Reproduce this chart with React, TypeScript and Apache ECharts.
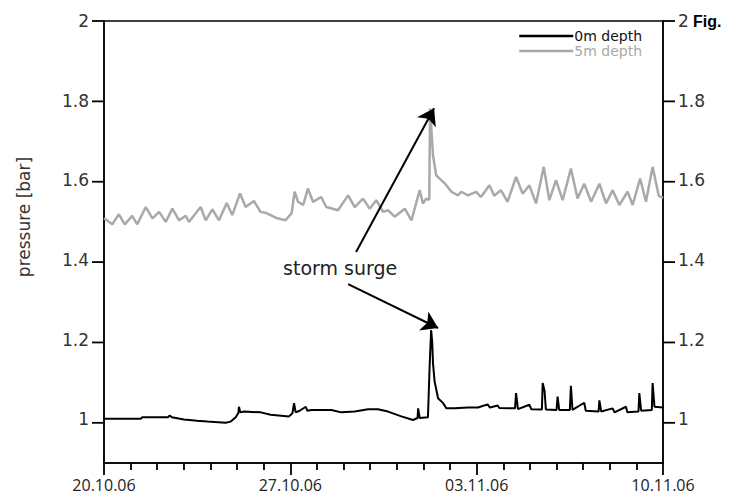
import React, { useEffect, useRef } from "react";
import * as echarts from "echarts";

const xTickLabels = ["20.10.06", "27.10.06", "03.11.06", "10.11.06"];
const yTicks = [1, 1.2, 1.4, 1.6, 1.8, 2];

const seriesNames = ["0m depth", "5m depth"];

const blackDays = [0.00,1.38,1.44,2.40,2.47,2.55,3.00,3.50,3.88,4.57,4.76,4.95,5.05,5.07,5.12,5.26,5.89,6.26,6.95,7.08,7.14,7.20,7.35,7.58,7.64,7.79,8.54,8.92,9.42,9.92,10.29,10.67,11.17,11.61,11.78,11.80,11.86,12.17,12.23,12.29,12.33,12.36,12.42,12.55,12.74,12.86,13.17,13.68,14.05,14.41,14.50,14.79,14.85,15.44,15.48,15.55,15.98,16.05,16.45,16.48,16.55,16.60,17.00,17.04,17.10,17.50,17.54,17.60,18.04,18.10,18.58,18.61,18.68,19.11,19.18,19.61,19.66,20.08,20.11,20.18,20.58,20.61,20.68,21.00];
const blackValues = [1.010,1.010,1.014,1.014,1.018,1.014,1.008,1.005,1.003,1.000,1.003,1.014,1.025,1.040,1.026,1.028,1.026,1.020,1.016,1.024,1.049,1.026,1.030,1.040,1.030,1.032,1.032,1.026,1.028,1.034,1.034,1.028,1.016,1.007,1.012,1.036,1.012,1.014,1.136,1.231,1.200,1.148,1.103,1.061,1.049,1.036,1.036,1.038,1.038,1.046,1.038,1.043,1.037,1.036,1.074,1.034,1.045,1.034,1.033,1.099,1.080,1.033,1.032,1.065,1.032,1.032,1.092,1.032,1.050,1.030,1.028,1.056,1.028,1.036,1.026,1.040,1.026,1.028,1.074,1.030,1.032,1.099,1.040,1.038];

const grayDays = [0.00,0.31,0.56,0.78,1.06,1.25,1.57,1.82,2.07,2.32,2.57,2.82,3.07,3.19,3.63,3.82,4.07,4.32,4.61,4.82,5.11,5.32,5.63,5.88,6.10,6.51,6.82,7.05,7.16,7.29,7.48,7.66,7.85,8.16,8.35,8.79,9.17,9.42,9.73,9.98,10.23,10.48,10.67,10.92,11.30,11.55,11.86,11.98,12.11,12.22,12.25,12.32,12.36,12.48,12.80,13.05,13.30,13.42,13.67,13.98,14.16,14.48,14.66,14.91,15.16,15.48,15.73,15.98,16.23,16.52,16.73,16.98,17.23,17.54,17.79,18.04,18.30,18.61,18.86,19.11,19.36,19.67,19.86,20.14,20.36,20.61,20.84,21.00];
const grayValues = [1.509,1.494,1.519,1.494,1.515,1.494,1.537,1.509,1.525,1.500,1.533,1.504,1.515,1.500,1.537,1.504,1.531,1.504,1.547,1.517,1.571,1.537,1.552,1.525,1.522,1.509,1.504,1.522,1.575,1.550,1.542,1.583,1.550,1.562,1.537,1.529,1.566,1.537,1.558,1.533,1.554,1.525,1.529,1.513,1.533,1.504,1.579,1.546,1.558,1.555,1.782,1.707,1.666,1.616,1.596,1.575,1.566,1.575,1.566,1.575,1.562,1.591,1.565,1.579,1.550,1.612,1.570,1.591,1.546,1.637,1.554,1.604,1.554,1.633,1.558,1.595,1.550,1.595,1.546,1.579,1.542,1.575,1.542,1.608,1.550,1.637,1.565,1.560];

// annotation anchors (data coordinates: day, bar)
const annotationText = "storm surge";
const annotationPos = [8.87, 1.385];
const arrowUpper = [[9.47, 1.425], [12.40, 1.783]];
const arrowLower = [[9.17, 1.345], [12.55, 1.236]];

const BLACK = "#000000";
const GRAY = "#a9a9a9";

const X_MIN = 0;
const X_MAX = 21;
const Y_MIN = 0.9;
const Y_MAX = 2;
const Y_STEP = 0.2;
// label axis starts one step below the first tick so that labels land on 1, 1.2, ...
const Y_TICK_MIN = yTicks[0] - Y_STEP;
const TICK_LEN = 12;

function labelAxis(position: "left" | "right") {
  return {
    type: "value",
    gridIndex: 1,
    position,
    min: Y_TICK_MIN,
    max: Y_MAX,
    interval: Y_STEP,
    splitLine: { show: false },
    axisLine: { show: false },
    axisTick: { show: false },
    axisLabel: {
      formatter: (v: number) => (v < yTicks[0] - 1e-6 ? "" : String(Number(v.toFixed(1)))),
      color: "#333",
      fontFamily: "DejaVu Sans",
      fontSize: 17,
      margin: 15,
    },
  };
}

function lineAxis(position: "left" | "right", extra: Record<string, unknown>) {
  return {
    type: "value",
    gridIndex: 0,
    position,
    min: Y_MIN,
    max: Y_MAX,
    splitLine: { show: false },
    axisLine: { show: true, lineStyle: { color: "#000", width: 1.5 } },
    axisTick: { show: false },
    axisLabel: { show: false },
    ...extra,
  };
}

export default function App() {
  const ref = useRef<HTMLDivElement>(null);
  useEffect(() => {
    if (!ref.current) return;
    const chart = echarts.init(ref.current, undefined, { renderer: "svg" });
    const blackData = blackDays.map((d, i) => [d, blackValues[i]]);
    const grayData = grayDays.map((d, i) => [d, grayValues[i]]);
    const plotTop = 21;
    const plotHeight = 442;
    const tickGridHeight = (plotHeight * (Y_MAX - Y_TICK_MIN)) / (Y_MAX - Y_MIN);
    const legendText = { fontFamily: "DejaVu Sans", fontSize: 14, padding: [0, 0, 0, -4] };
    const legendBase = {
      orient: "vertical",
      right: 82,
      itemGap: 0,
      icon: "rect",
      itemWidth: 54,
      itemHeight: 2.5,
    };
    const figText = {
      id: "fig",
      type: "text",
      left: 693,
      top: 13,
      style: { text: "Fig.", font: "bold 16px 'Liberation Sans'", fill: "#000" },
    };
    chart.setOption({
      animation: false,
      backgroundColor: "#fff",
      grid: [
        { left: 104, right: 66, top: plotTop, height: plotHeight, show: true, borderColor: "#000", borderWidth: 1.5 },
        { left: 104, right: 66, top: plotTop, height: tickGridHeight, show: false },
      ],
      legend: [
        { ...legendBase, top: 24, data: [{ name: seriesNames[0] }], textStyle: { ...legendText, color: "#111" } },
        { ...legendBase, top: 39, data: [{ name: seriesNames[1] }], textStyle: { ...legendText, color: GRAY } },
      ],
      xAxis: [
        {
          type: "value",
          gridIndex: 0,
          min: X_MIN,
          max: X_MAX,
          interval: 7,
          splitLine: { show: false },
          axisLine: { show: true, onZero: false, lineStyle: { color: "#000", width: 1.5 } },
          axisTick: { show: true, length: 12, lineStyle: { color: "#000", width: 1.8 } },
          minorTick: { show: true, splitNumber: 7, length: 7, lineStyle: { color: "#000", width: 1.8 } },
          minorSplitLine: { show: false },
          axisLabel: {
            formatter: (v: number) => xTickLabels[Math.round(v / 7)] ?? "",
            color: "#222",
            fontFamily: "Open Sans",
            fontSize: 16,
            margin: 14,
          },
        },
        { type: "value", gridIndex: 1, show: false, min: X_MIN, max: X_MAX },
      ],
      yAxis: [
        lineAxis("left", {
          name: "pressure [bar]",
          nameLocation: "middle",
          nameGap: 72,
          nameTextStyle: { fontFamily: "DejaVu Sans", fontSize: 17, color: "#333", padding: [0, 0, 0, 50] },
        }),
        lineAxis("right", {}),
        labelAxis("left"),
        labelAxis("right"),
      ],
      graphic: [figText],
      series: [
        {
          name: seriesNames[1],
          type: "line",
          xAxisIndex: 0,
          yAxisIndex: 0,
          data: grayData,
          showSymbol: false,
          symbol: "none",
          lineStyle: { color: GRAY, width: 2.5 },
          itemStyle: { color: GRAY },
          z: 2,
        },
        {
          name: seriesNames[0],
          type: "line",
          xAxisIndex: 0,
          yAxisIndex: 0,
          data: blackData,
          showSymbol: false,
          symbol: "none",
          lineStyle: { color: BLACK, width: 2 },
          itemStyle: { color: BLACK },
          z: 3,
          markLine: {
            silent: true,
            symbol: ["none", "arrow"],
            symbolSize: 16,
            lineStyle: { color: "#000", width: 2, type: "solid" },
            label: { show: false },
            data: [
              [{ coord: arrowUpper[0] }, { coord: arrowUpper[1] }],
              [{ coord: arrowLower[0] }, { coord: arrowLower[1] }],
            ],
          },
          markPoint: {
            silent: true,
            symbol: "circle",
            symbolSize: 0,
            label: {
              show: true,
              formatter: annotationText,
              position: "inside",
              color: "#222",
              fontFamily: "DejaVu Sans",
              fontSize: 19,
              backgroundColor: "#fff",
              padding: [1, 2],
            },
            data: [{ coord: annotationPos }],
          },
        },
      ],
    });

    // y-axis tick marks placed through the chart's own scale
    const finder = { xAxisIndex: 0, yAxisIndex: 0 };
    const tickLines: any[] = [];
    yTicks.forEach((v, i) => {
      const pl = chart.convertToPixel(finder, [X_MIN, v]) as number[];
      const pr = chart.convertToPixel(finder, [X_MAX, v]) as number[];
      if (!pl || !pr) return;
      const style = { stroke: "#000", lineWidth: 1.8 };
      tickLines.push({
        id: "tl" + i,
        type: "line",
        z: 10,
        shape: { x1: pl[0] - TICK_LEN, y1: pl[1], x2: pl[0], y2: pl[1] },
        style,
      });
      tickLines.push({
        id: "tr" + i,
        type: "line",
        z: 10,
        shape: { x1: pr[0], y1: pr[1], x2: pr[0] + TICK_LEN, y2: pr[1] },
        style,
      });
    });
    chart.setOption({ graphic: [figText, ...tickLines] });

    return () => chart.dispose();
  }, []);
  return <div ref={ref} style={{ position: "fixed", left: 0, top: 0, width: 729, height: 499 }} />;
}
